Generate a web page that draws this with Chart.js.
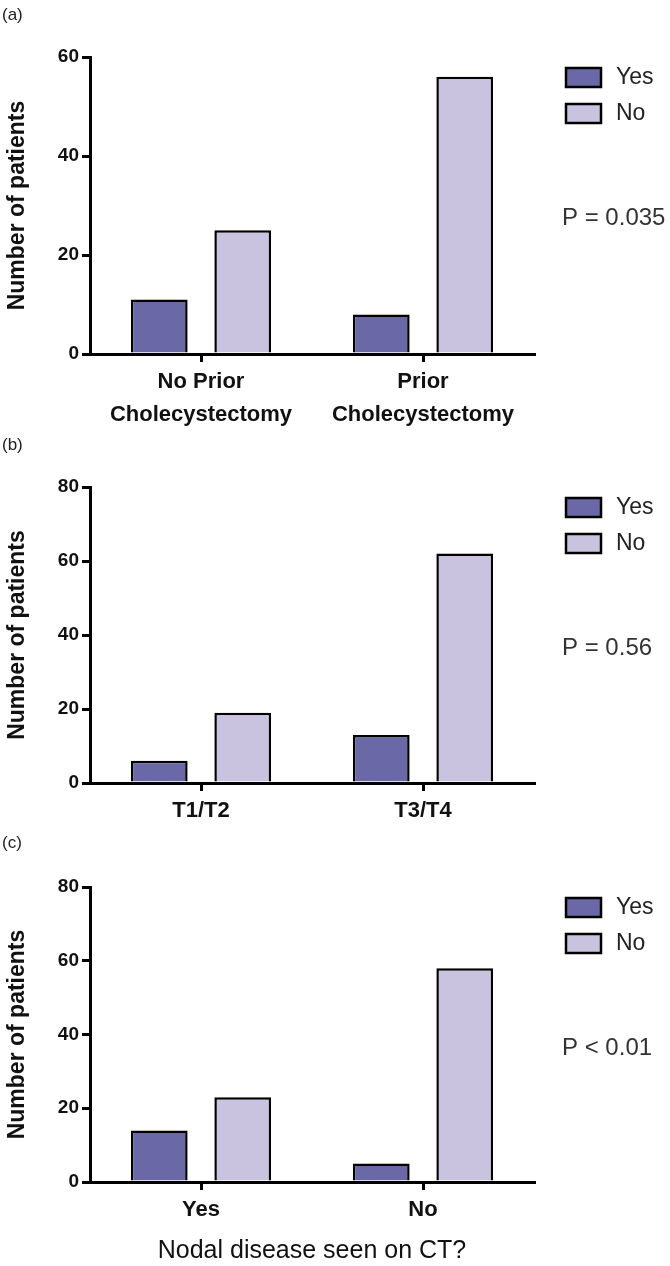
<!DOCTYPE html>
<html>
<head>
<meta charset="utf-8">
<script src="https://cdn.jsdelivr.net/npm/chart.js@4.4.1/dist/chart.umd.min.js"></script>
<style>
  body { margin: 0; background: #fff; }
  .panel { position: absolute; left: 0; }
</style>
</head>
<body>
<div class="panel" style="top:0px"><canvas id="chartA" width="670" height="430"></canvas></div>
<div class="panel" style="top:430px"><canvas id="chartB" width="670" height="400"></canvas></div>
<div class="panel" style="top:830px"><canvas id="chartC" width="670" height="436"></canvas></div>
<script>
// data
var seriesNames = ['Yes', 'No'];
var seriesColors = ['#6a68a6', '#c9c3df'];

var catsA = [['No Prior', 'Cholecystectomy'], ['Prior', 'Cholecystectomy']];
var yesA = [11, 8];
var noA = [25, 56];
var pA = 'P = 0.035';

var catsB = ['T1/T2', 'T3/T4'];
var yesB = [6, 13];
var noB = [19, 62];
var pB = 'P = 0.56';

var catsC = ['Yes', 'No'];
var yesC = [14, 5];
var noC = [23, 58];
var pC = 'P < 0.01';
var xTitleC = 'Nodal disease seen on CT?';

var FONT = '"Liberation Sans", Arial, sans-serif';

// draws the boxed legend, the P value and the panel letter
var sideNotes = {
  id: 'sideNotes',
  afterDraw: function(chart, args, opts) {
    var ctx = chart.ctx;
    ctx.save();
    chart.data.datasets.forEach(function(ds, i) {
      var y = 68 + i * 36;
      ctx.fillStyle = ds.backgroundColor;
      ctx.fillRect(566, y, 35, 19);
      ctx.lineWidth = 2.5;
      ctx.strokeStyle = '#000';
      ctx.strokeRect(566, y, 35, 19);
      ctx.fillStyle = '#222';
      ctx.font = '23px ' + FONT;
      ctx.textBaseline = 'middle';
      ctx.textAlign = 'left';
      ctx.fillText(ds.label, 616, y + 10);
    });
    ctx.fillStyle = '#333';
    ctx.font = '24px ' + FONT;
    ctx.fillText(opts.p, 562, 218);
    ctx.fillStyle = '#222';
    ctx.font = '17px ' + FONT;
    ctx.fillText(opts.tag, 2, opts.tagY);
    ctx.restore();
  }
};

function makeChart(id, cats, yes, no, yMax, p, tag, tagY, xHeight, xTitle) {
  var ctx = document.getElementById(id).getContext('2d');
  return new Chart(ctx, {
    type: 'bar',
    data: {
      labels: cats,
      datasets: [{
        label: seriesNames[0],
        data: yes,
        backgroundColor: seriesColors[0],
        borderColor: '#000',
        borderWidth: 2.5,
        barPercentage: 0.68,
        categoryPercentage: 0.752
      }, {
        label: seriesNames[1],
        data: no,
        backgroundColor: seriesColors[1],
        borderColor: '#000',
        borderWidth: 2.5,
        barPercentage: 0.68,
        categoryPercentage: 0.752
      }]
    },
    plugins: [sideNotes],
    options: {
      responsive: false,
      animation: false,
      layout: { padding: { top: 57, right: 136, left: 0, bottom: 0 } },
      plugins: {
        legend: { display: false },
        tooltip: { enabled: false },
        sideNotes: { p: p, tag: tag, tagY: tagY }
      },
      scales: {
        x: {
          afterFit: function(scale) { scale.height = xHeight; },
          border: { color: '#000', width: 3 },
          grid: { drawOnChartArea: false, offset: false, color: '#000', lineWidth: 3, tickLength: 8 },
          ticks: { color: '#111', padding: 3, font: { family: FONT, size: 22, weight: 'bold', lineHeight: 1.5 } },
          title: {
            display: !!xTitle,
            text: xTitle || '',
            color: '#111',
            padding: { top: 0, bottom: 0 },
            font: { family: FONT, size: 25 }
          }
        },
        y: {
          min: 0,
          max: yMax,
          afterFit: function(scale) { scale.width = 90; },
          border: { color: '#000', width: 3 },
          grid: { drawOnChartArea: false, color: '#000', lineWidth: 3, tickLength: 8 },
          ticks: { stepSize: 20, color: '#111', padding: 3, font: { family: FONT, size: 19, weight: 'bold' } },
          title: {
            display: true,
            text: 'Number of patients',
            color: '#111',
            padding: { top: 4, bottom: 4 },
            font: { family: FONT, size: 23, weight: 'bold' }
          }
        }
      }
    }
  });
}

makeChart('chartA', catsA, yesA, noA, 60, pA, '(a)', 15, 76, null);
makeChart('chartB', catsB, yesB, noB, 80, pB, '(b)', 15, 47, null);
makeChart('chartC', catsC, yesC, noC, 80, pC, '(c)', 13, 84, xTitleC);
</script>
</body>
</html>
